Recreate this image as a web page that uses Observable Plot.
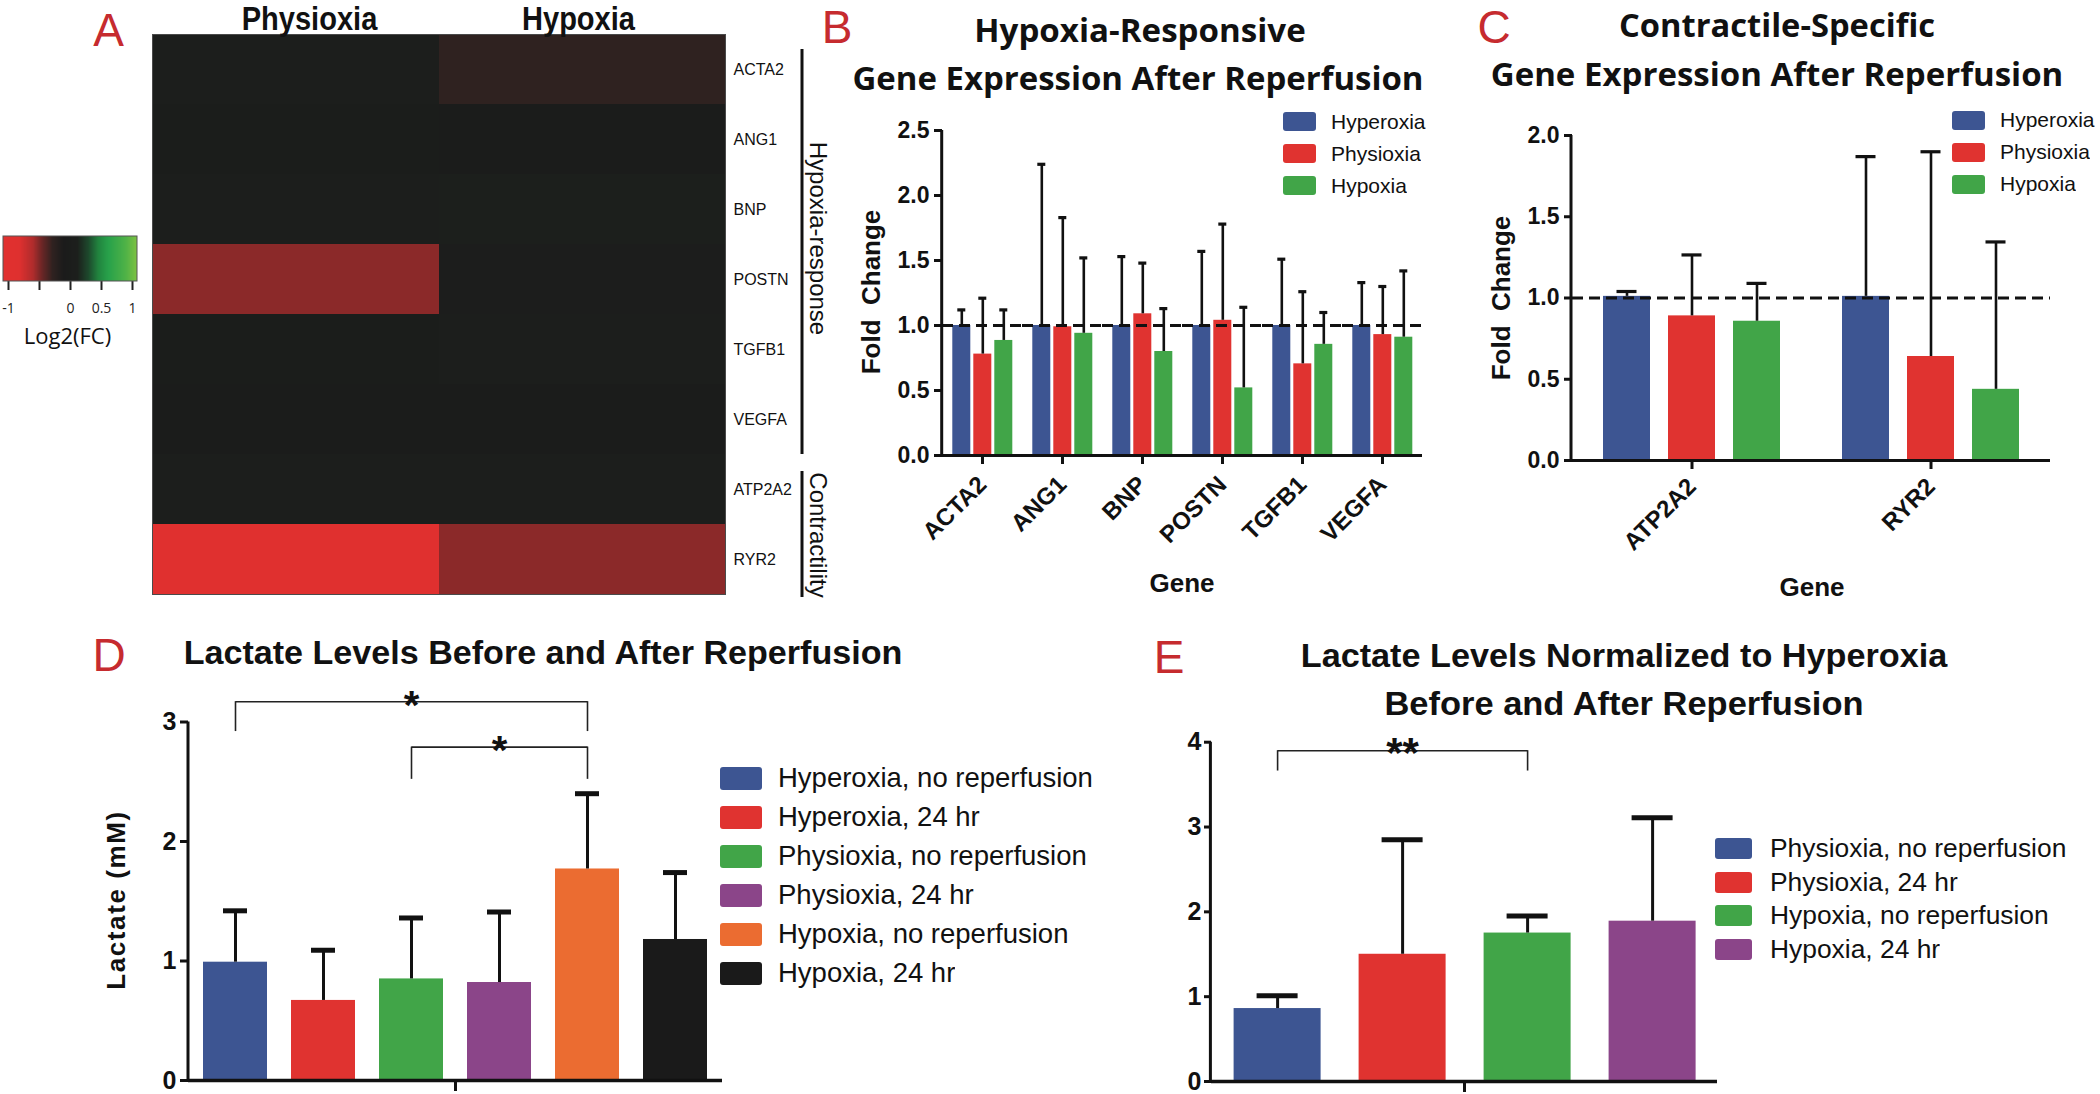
<!DOCTYPE html>
<html>
<head>
<meta charset="utf-8">
<script src="https://cdn.jsdelivr.net/npm/d3@7"></script>
<script src="https://cdn.jsdelivr.net/npm/@observablehq/plot@0.6"></script>
<style>
html, body { margin: 0; padding: 0; background: #fff; }
#root { position: relative; width: 2100px; height: 1094px; overflow: hidden; background: #fff; color: #111; font-family: "Liberation Sans", Arial, sans-serif; }
.panel { position: absolute; }
.panel svg { overflow: visible; display: block; }
.txt { position: absolute; white-space: pre; line-height: 1; }
.leg { position: absolute; }
.leg > div { margin: 0 !important; font-family: "Liberation Sans", Arial, sans-serif !important; color: #111 !important; }
.leg > div > div { display: flex !important; align-items: center !important; padding: 0 !important; margin: 0 !important; }
.leg svg { overflow: visible; flex-shrink: 0; }
.leg rect { rx: 3px; ry: 3px; }
#legB > div, #legC > div { font-size: 21px !important; }
#legB > div > div, #legC > div > div { height: 32px; }
#legB svg, #legC svg { margin-right: 15px !important; }
#legD > div { font-size: 27.5px !important; }
#legD > div > div { height: 39px; }
#legD svg { margin-right: 16px !important; }
#legE > div { font-size: 26.4px !important; }
#legE > div > div { height: 33.7px; }
#legE svg { margin-right: 18px !important; }
</style>
</head>
<body>
<div id="root"></div>
<script>
// ---------------- DATA ----------------
// Panel A: heatmap of log2 fold change
const heatGenes = ["ACTA2", "ANG1", "BNP", "POSTN", "TGFB1", "VEGFA", "ATP2A2", "RYR2"];
const heatConditions = ["Physioxia", "Hypoxia"];
const log2fcPhysioxia = [0.04, 0.0, 0.04, -0.52, 0.0, -0.05, 0.04, -1.0];
const log2fcHypoxia = [-0.28, -0.05, 0.12, 0.02, 0.09, -0.05, 0.05, -0.52];
const heatLegendTicks = [-1, -0.5, 0, 0.5, 1];

// Panel B: hypoxia-responsive genes
const genesB = ["ACTA2", "ANG1", "BNP", "POSTN", "TGFB1", "VEGFA"];
const oxygenGroups = ["Hyperoxia", "Physioxia", "Hypoxia"];
const meanB_Hyperoxia = [1.0, 1.0, 1.0, 1.0, 1.0, 1.0];
const upperB_Hyperoxia = [1.12, 2.24, 1.53, 1.57, 1.51, 1.33];
const meanB_Physioxia = [0.78, 0.99, 1.09, 1.04, 0.705, 0.93];
const upperB_Physioxia = [1.21, 1.83, 1.48, 1.78, 1.26, 1.30];
const meanB_Hypoxia = [0.885, 0.94, 0.80, 0.52, 0.855, 0.91];
const upperB_Hypoxia = [1.12, 1.52, 1.13, 1.14, 1.10, 1.42];
const yTicksB = [0, 0.5, 1.0, 1.5, 2.0, 2.5];

// Panel C: contractile-specific genes
const genesC = ["ATP2A2", "RYR2"];
const meanC_Hyperoxia = [1.01, 1.01];
const upperC_Hyperoxia = [1.04, 1.87];
const meanC_Physioxia = [0.89, 0.64];
const upperC_Physioxia = [1.265, 1.90];
const meanC_Hypoxia = [0.857, 0.438];
const upperC_Hypoxia = [1.09, 1.345];
const yTicksC = [0, 0.5, 1.0, 1.5, 2.0];

// Panel D: lactate levels (mM)
const conditionsD = ["Hyperoxia, no reperfusion", "Hyperoxia, 24 hr", "Physioxia, no reperfusion", "Physioxia, 24 hr", "Hypoxia, no reperfusion", "Hypoxia, 24 hr"];
const lactateMeanD = [0.99, 0.67, 0.85, 0.82, 1.77, 1.18];
const lactateUpperD = [1.42, 1.09, 1.36, 1.41, 2.40, 1.74];
const yTicksD = [0, 1, 2, 3];
const bracketFromD = ["Hyperoxia, no reperfusion", "Physioxia, no reperfusion"];
const bracketToD = ["Hypoxia, no reperfusion", "Hypoxia, no reperfusion"];
const bracketMidD = ["Physioxia, no reperfusion", "Physioxia, 24 hr"];
const bracketTopD = [3.17, 2.79];
const bracketBottomD = [2.92, 2.52];
const bracketLabelD = ["*", "*"];

// Panel E: lactate normalized to hyperoxia
const conditionsE = ["Physioxia, no reperfusion", "Physioxia, 24 hr", "Hypoxia, no reperfusion", "Hypoxia, 24 hr"];
const lactateMeanE = [0.86, 1.50, 1.75, 1.89];
const lactateUpperE = [1.01, 2.85, 1.95, 3.11];
const yTicksE = [0, 1, 2, 3, 4];
const bracketFromE = ["Physioxia, no reperfusion"];
const bracketToE = ["Hypoxia, no reperfusion"];
const bracketMidE = ["Physioxia, 24 hr"];
const bracketTopE = [3.90];
const bracketBottomE = [3.66];
const bracketLabelE = ["**"];

// ---------------- STYLE ----------------
const cBlue = "#3d5592", cRed = "#e03330", cGreen = "#41a548", cPurple = "#8b4589", cOrange = "#eb6c31", cBlack = "#1a1a1a";
const rampStops = [-1.08, -0.82, -0.6, -0.45, -0.28, -0.1, 0.12, 0.3, 0.46, 0.62, 0.9, 1.08];
const rampColors = ["#e1302f", "#df302f", "#b02c2c", "#6a2626", "#2f2220", "#1b1b1b", "#1c1f1c", "#1d4a2d", "#21853f", "#28a14a", "#4fb247", "#7cc242"];
const FONT = '"Liberation Sans", Arial, sans-serif';
const baseStyle = {background: "transparent", fontFamily: FONT, color: "#111", overflow: "visible"};
const ink = "#111";

const root = document.getElementById("root");
function place(el, left, top, width, id, cls = "panel") {
  const w = document.createElement("div");
  w.className = cls;
  if (id) w.id = id;
  w.style.left = left + "px";
  w.style.top = top + "px";
  if (width) w.style.width = width + "px";
  w.appendChild(el);
  root.appendChild(w);
  return w;
}
function addText(str, o) {
  const el = document.createElement("div");
  el.className = "txt";
  el.textContent = str;
  el.style.fontFamily = o.family || FONT;
  el.style.fontSize = o.size + "px";
  el.style.fontWeight = o.weight || 400;
  el.style.color = o.color || ink;
  if (o.ls) el.style.letterSpacing = o.ls + "px";
  el.style.left = o.x + "px";
  el.style.top = o.y + "px";
  root.appendChild(el);
  const sx = o.fit ? o.fit / el.offsetWidth : 1;
  el.style.transform = `translate(-50%, -50%) rotate(${o.rotate || 0}deg) scaleX(${sx})`;
  return el;
}

// ---------------- PANEL A ----------------
const heatData = heatGenes.flatMap((g, i) => [
  {gene: g, condition: "Physioxia", value: log2fcPhysioxia[i]},
  {gene: g, condition: "Hypoxia", value: log2fcHypoxia[i]}
]);
const heatRamp = d3.scaleLinear().domain(rampStops).range(rampColors).clamp(true);
const headerAxis = {anchor: "top", tickSize: 0, tickPadding: 5, fontSize: 33, fontWeight: "bold", label: null};
const plotA = Plot.plot({
  width: 760, height: 610,
  marginLeft: 52, marginRight: 135, marginTop: 34, marginBottom: 16,
  style: baseStyle,
  x: {domain: heatConditions, padding: 0},
  y: {domain: heatGenes, padding: 0},
  color: {type: "linear", domain: [-1.08, 1.08], interpolate: (t) => heatRamp(-1.08 + 2.16 * t)},
  marks: [
    Plot.cell(heatData, {x: "condition", y: "gene", fill: "value"}),
    Plot.frame({stroke: "#4a4a4a", strokeWidth: 1}),
    Plot.axisX({...headerAxis, ticks: [heatConditions[0]], dx: 13}),
    Plot.axisX({...headerAxis, ticks: [heatConditions[1]], dx: -4}),
    Plot.axisY({anchor: "right", tickSize: 0, tickPadding: 8, fontSize: 16, label: null})
  ]
});
place(plotA, 100, 0, 760);
{
  // slightly condensed header lettering, as in the reference
  d3.select(plotA).selectAll('g[aria-label="x-axis tick label"] text').each(function () {
    const t = this.getAttribute("transform") || "";
    this.setAttribute("transform", t + " scale(0.88,1)");
  });
  const xs = plotA.scale("x"), ys = plotA.scale("y");
  const right = xs.apply("Hypoxia") + xs.bandwidth;
  const lx = right + 77;
  const svg = d3.select(plotA);
  const h0 = ys.apply(heatGenes[0]) + 15, h1 = ys.apply("VEGFA") + ys.bandwidth;
  const c0 = ys.apply("ATP2A2") + 17, c1 = ys.apply("RYR2") + ys.bandwidth + 3;
  svg.append("line").attr("x1", lx).attr("x2", lx).attr("y1", h0).attr("y2", h1).attr("stroke", ink).attr("stroke-width", 3);
  svg.append("line").attr("x1", lx).attr("x2", lx).attr("y1", c0).attr("y2", c1).attr("stroke", ink).attr("stroke-width", 3);
  svg.append("text").attr("transform", `translate(${lx + 16},${(h0 + h1) / 2 - 13}) rotate(90)`)
    .attr("text-anchor", "middle").attr("dy", "0.35em").attr("font-size", 24).attr("fill", ink).text("Hypoxia-response");
  svg.append("text").attr("transform", `translate(${lx + 16},${(c0 + c1) / 2 + 1}) rotate(90)`)
    .attr("text-anchor", "middle").attr("dy", "0.35em").attr("font-size", 24).attr("fill", ink).text("Contractility");
}
// Heatmap colour legend
const legA = plotA.legend("color", {
  legend: "ramp", width: 150, height: 70, marginTop: 0, marginBottom: 25, marginLeft: 3, marginRight: 13,
  ticks: heatLegendTicks, tickFormat: (d) => (d === -0.5 ? "" : String(d)), tickSize: 9, label: null,
  style: {fontFamily: '"Open Sans", sans-serif', fontSize: "14px", background: "transparent", overflow: "visible"}
});
place(legA, 0, 236, 150);
{
  const s = d3.select(legA.tagName.toLowerCase() === "svg" ? legA : legA.querySelector("svg"));
  s.selectAll(".tick line").attr("y1", 0).attr("stroke-width", 2).attr("stroke", "#222");
  s.selectAll(".tick text").attr("y", 22).attr("font-size", 14).attr("fill", "#222");
  s.append("rect").attr("x", 3).attr("y", 0).attr("width", 134).attr("height", 45).attr("fill", "none").attr("stroke", "#555").attr("stroke-width", 1);
}
addText("Log2(FC)", {x: 67.5, y: 335, size: 22, family: '"Open Sans", sans-serif'});

// ---------------- PANELS B & C ----------------
function geneBars(cfg) {
  const data = cfg.genes.flatMap((g, gi) => oxygenGroups.map((c, ci) => ({gene: g, condition: c, mean: cfg.means[ci][gi], upper: cfg.uppers[ci][gi]})));
  const p = Plot.plot({
    width: cfg.width, height: cfg.height,
    marginLeft: cfg.ml, marginRight: cfg.mr, marginTop: cfg.mt, marginBottom: cfg.mb,
    style: baseStyle,
    fx: {domain: cfg.genes, padding: 0},
    x: {domain: oxygenGroups, paddingInner: cfg.pi, paddingOuter: cfg.po, axis: null},
    y: {domain: [0, cfg.yMax]},
    color: {domain: oxygenGroups, range: [cBlue, cRed, cGreen]},
    marks: [
      Plot.barY(data, {fx: "gene", x: "condition", y: "mean", fill: "condition"}),
      Plot.ruleY([1], {stroke: ink, strokeWidth: 3, strokeDasharray: "11,6"}),
      Plot.ruleX(data, {fx: "gene", x: "condition", y1: "mean", y2: "upper", stroke: ink, strokeWidth: 2.6}),
      Plot.tickY(data, {fx: "gene", x: "condition", y: "upper", stroke: ink, strokeWidth: 3.2, insetLeft: cfg.cap, insetRight: cfg.cap}),
      Plot.ruleY([0], {stroke: ink, strokeWidth: 3}),
      Plot.axisY({ticks: cfg.yTicks, tickFormat: d3.format(".1f"), tickSize: 8, tickPadding: 5, fontSize: 23, fontWeight: "bold", strokeWidth: 3, label: null}),
      Plot.axisFx({anchor: "bottom", tickSize: 9, tickPadding: cfg.labelPad, tickRotate: -45, fontSize: 24, fontWeight: "bold", strokeWidth: 3, label: null})
    ]
  });
  const y = p.scale("y");
  d3.select(p).append("line").attr("x1", cfg.ml).attr("x2", cfg.ml).attr("y1", y.apply(0) + 1.5).attr("y2", y.apply(cfg.yMax))
    .attr("stroke", ink).attr("stroke-width", 3);
  return p;
}
const plotB = geneBars({
  genes: genesB, means: [meanB_Hyperoxia, meanB_Physioxia, meanB_Hypoxia], uppers: [upperB_Hyperoxia, upperB_Physioxia, upperB_Hypoxia],
  width: 600, height: 470, ml: 111.7, mr: 8.3, mt: 30, mb: 115, pi: 0.14, po: 0.42, cap: 5, yMax: 2.5, yTicks: yTicksB, labelPad: 16
});
place(plotB, 830, 100, 600);
const plotC = geneBars({
  genes: genesC, means: [meanC_Hyperoxia, meanC_Physioxia, meanC_Hypoxia], uppers: [upperC_Hyperoxia, upperC_Physioxia, upperC_Hypoxia],
  width: 630, height: 470, ml: 111, mr: 39.4, mt: 35, mb: 110, pi: 0.27, po: 0.468, cap: 13.5, yMax: 2.0, yTicks: yTicksC, labelPad: 13
});
place(plotC, 1460, 100, 630);
place(plotB.legend("color", {columns: 1, swatchWidth: 33, swatchHeight: 19}), 1283, 105.5, 200, "legB", "leg");
place(plotC.legend("color", {columns: 1, swatchWidth: 33, swatchHeight: 19}), 1952, 104, 148, "legC", "leg");

// ---------------- PANELS D & E ----------------
function lactateBars(cfg) {
  const data = cfg.conditions.map((c, i) => ({group: "Lactate", condition: c, mean: cfg.means[i], upper: cfg.uppers[i]}));
  const brackets = cfg.from.map((f, i) => ({from: f, to: cfg.to[i], mid: cfg.mid[i], top: cfg.top[i], bottom: cfg.bottom[i], label: cfg.labels[i]}));
  const p = Plot.plot({
    width: cfg.width, height: cfg.height,
    marginLeft: cfg.ml, marginRight: cfg.mr, marginTop: cfg.mt, marginBottom: cfg.mb,
    style: baseStyle,
    fx: {padding: 0},
    x: {domain: cfg.conditions, paddingInner: cfg.pi, paddingOuter: cfg.po, axis: null},
    y: {domain: [0, cfg.yMax]},
    color: {domain: cfg.conditions, range: cfg.colors},
    marks: [
      Plot.barY(data, {fx: "group", x: "condition", y: "mean", fill: "condition"}),
      Plot.ruleX(data, {fx: "group", x: "condition", y1: "mean", y2: "upper", stroke: ink, strokeWidth: 3}),
      Plot.tickY(data, {fx: "group", x: "condition", y: "upper", stroke: ink, strokeWidth: 5, insetLeft: cfg.cap, insetRight: cfg.cap}),
      Plot.link(brackets, {x1: "from", x2: "to", y1: "top", y2: "top", stroke: "#222", strokeWidth: 1.6}),
      Plot.ruleX(brackets, {x: "from", y1: "bottom", y2: "top", stroke: "#222", strokeWidth: 1.6}),
      Plot.ruleX(brackets, {x: "to", y1: "bottom", y2: "top", stroke: "#222", strokeWidth: 1.6}),
      Plot.text(brackets, {x: "mid", y: "top", text: "label", lineAnchor: "bottom", dy: cfg.starDy, fontSize: cfg.starSize, fontWeight: "bold", fill: ink}),
      Plot.ruleY([0], {stroke: ink, strokeWidth: 3.5}),
      Plot.axisY({ticks: cfg.yTicks, tickFormat: "d", tickSize: cfg.tickSize, tickPadding: cfg.tickPad, fontSize: 25, fontWeight: "bold", strokeWidth: 3, label: null}),
      Plot.axisFx({anchor: "bottom", tickSize: 11, tickFormat: () => "", strokeWidth: 3, label: null})
    ]
  });
  const y = p.scale("y");
  d3.select(p).append("line").attr("x1", cfg.ml).attr("x2", cfg.ml).attr("y1", y.apply(0) + 1.5).attr("y2", y.apply(cfg.yMax))
    .attr("stroke", ink).attr("stroke-width", 3);
  return p;
}
const plotD = lactateBars({
  conditions: conditionsD, means: lactateMeanD, uppers: lactateUpperD, colors: [cBlue, cRed, cGreen, cPurple, cOrange, cBlack],
  from: bracketFromD, to: bracketToD, mid: bracketMidD, top: bracketTopD, bottom: bracketBottomD, labels: bracketLabelD,
  width: 680, height: 474, ml: 108, mr: 38, mt: 101.5, mb: 14, pi: 0.27, po: 0.143, cap: 20, yMax: 3, yTicks: yTicksD,
  tickSize: 8, tickPad: 4, starSize: 40, starDy: 17
});
place(plotD, 80, 620, 680);
const plotE = lactateBars({
  conditions: conditionsE, means: lactateMeanE, uppers: lactateUpperE, colors: [cBlue, cRed, cGreen, cPurple],
  from: bracketFromE, to: bracketToE, mid: bracketMidE, top: bracketTopE, bottom: bracketBottomE, labels: bracketLabelE,
  width: 620, height: 474, ml: 80.4, mr: 33.4, mt: 121.7, mb: 13, pi: 0.307, po: 0.17, cap: 23, yMax: 4, yTicks: yTicksE,
  tickSize: 7, tickPad: 3, starSize: 42, starDy: 16
});
place(plotE, 1130, 620, 620);
place(plotD.legend("color", {columns: 1, swatchWidth: 42, swatchHeight: 23}), 720, 758.8, 420, "legD", "leg");
place(plotE.legend("color", {columns: 1, swatchWidth: 37, swatchHeight: 21}), 1715, 831.5, 385, "legE", "leg");

// ---------------- TITLES, LABELS, PANEL LETTERS ----------------
const letterStyle = {size: 46, color: "#c62b2f"};
addText("A", {...letterStyle, x: 108.5, y: 30});
addText("B", {...letterStyle, x: 837, y: 27});
addText("C", {...letterStyle, x: 1494, y: 27});
addText("D", {...letterStyle, x: 109, y: 655});
addText("E", {...letterStyle, x: 1169, y: 657});

const titleBC = {size: 32, weight: 700, family: '"Open Sans", sans-serif'};
addText("Hypoxia-Responsive", {...titleBC, x: 1139.6, y: 30, fit: 331});
addText("Gene Expression After Reperfusion", {...titleBC, x: 1138.4, y: 78, fit: 571});
addText("Contractile-Specific", {...titleBC, x: 1777, y: 25, fit: 316.5});
addText("Gene Expression After Reperfusion", {...titleBC, x: 1777, y: 74, fit: 572.6});

addText("Lactate Levels Before and After Reperfusion", {size: 33, weight: 700, x: 542.5, y: 652, fit: 719});
addText("Lactate Levels Normalized to Hyperoxia", {size: 33, weight: 700, x: 1623.5, y: 655, fit: 647});
addText("Before and After Reperfusion", {size: 33, weight: 700, x: 1623.5, y: 703, fit: 479});

addText("Fold\u00a0\u00a0Change", {size: 26, weight: 700, x: 871, y: 292, rotate: -90});
addText("Gene", {size: 26, weight: 700, x: 1182, y: 583});
addText("Fold\u00a0\u00a0Change", {size: 26, weight: 700, x: 1501, y: 297.5, rotate: -90});
addText("Gene", {size: 26, weight: 700, x: 1812, y: 587});
addText("Lactate (mM)", {size: 26, weight: 700, x: 116, y: 900, rotate: -90, ls: 1.6});
</script>
</body>
</html>
